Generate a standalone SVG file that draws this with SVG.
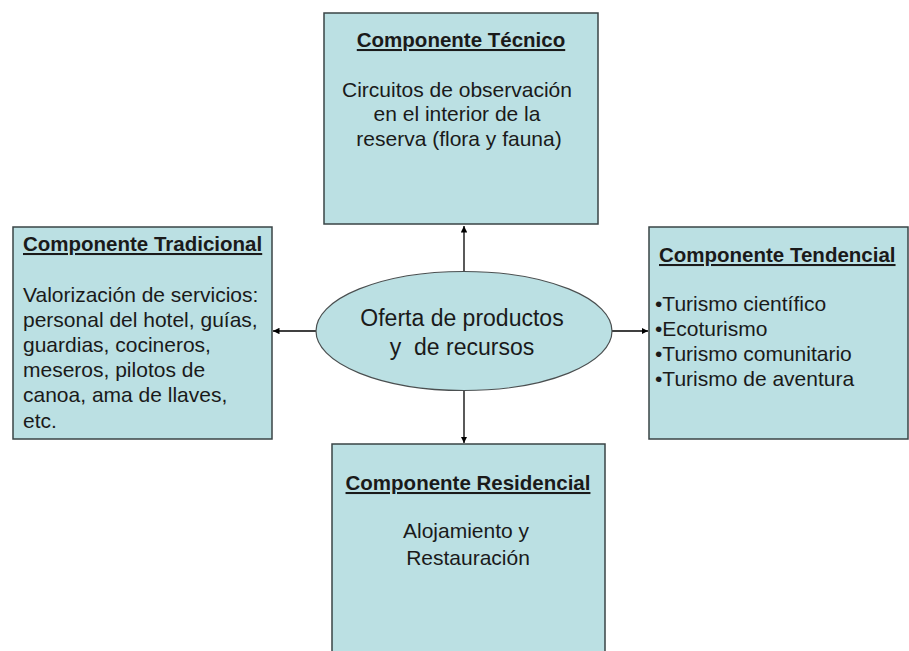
<svg xmlns="http://www.w3.org/2000/svg" width="909" height="651" viewBox="0 0 909 651">
  <style>
    .box { fill: #BBE0E3; stroke: #3a4446; stroke-width: 1.5; }
    .ell { fill: #BBE0E3; stroke: #4a4f50; stroke-width: 1.2; }
    .t { font-family: "Liberation Sans", Arial, sans-serif; fill: #1a1a1a; white-space: pre; }
    .title { font-size: 20.5px; font-weight: bold; text-decoration: underline; }
    .body { font-size: 21px; }
    .big { font-size: 23px; }
    .conn { stroke: #000; stroke-width: 1.3; fill: none; marker-end: url(#ah); }
  </style>
  <defs>
    <marker id="ah" viewBox="0 0 10 10" refX="10" refY="5" markerWidth="6.5" markerHeight="6.5" markerUnits="userSpaceOnUse" orient="auto">
      <path d="M0,0 L10,5 L0,10 z" fill="#000"/>
    </marker>
  </defs>
  <rect width="909" height="651" fill="#fff"/>

  <g id="connectors">
    <line class="conn" x1="464" y1="271" x2="464" y2="226"/>
    <line class="conn" x1="316" y1="331" x2="273" y2="331"/>
    <line class="conn" x1="612" y1="331" x2="648" y2="331"/>
    <line class="conn" x1="464" y1="391" x2="464" y2="443"/>
  </g>

  <g id="tecnico">
    <rect class="box" x="324" y="13" width="274" height="211"/>
    <text class="t title" x="461" y="47" text-anchor="middle">Componente Técnico</text>
    <text class="t body" text-anchor="middle"><tspan x="457" y="97">Circuitos de observación</tspan><tspan x="457" y="121">en el interior de la</tspan><tspan x="459" y="146">reserva (flora y fauna)</tspan></text>
  </g>

  <g id="tradicional">
    <rect class="box" x="13" y="227" width="259" height="212"/>
    <text class="t title" x="23" y="251">Componente Tradicional</text>
    <text class="t body"><tspan x="23" y="302">Valorización de servicios:</tspan><tspan x="23" y="327">personal del hotel, guías,</tspan><tspan x="23" y="352">guardias, cocineros,</tspan><tspan x="23" y="377">meseros, pilotos de</tspan><tspan x="23" y="402">canoa, ama de llaves,</tspan><tspan x="23" y="428">etc.</tspan></text>
  </g>

  <g id="tendencial">
    <rect class="box" x="649" y="227" width="259" height="212"/>
    <text class="t title" x="659" y="262">Componente Tendencial</text>
    <text class="t body"><tspan x="655" y="311">•Turismo científico</tspan><tspan x="655" y="336">•Ecoturismo</tspan><tspan x="655" y="361">•Turismo comunitario</tspan><tspan x="655" y="386">•Turismo de aventura</tspan></text>
  </g>

  <g id="oferta">
    <ellipse class="ell" cx="464" cy="331" rx="148" ry="59.5"/>
    <text class="t big" text-anchor="middle"><tspan x="462" y="326">Oferta de productos</tspan><tspan x="462" y="355">y  de recursos</tspan></text>
  </g>

  <g id="residencial">
    <rect class="box" x="332" y="444" width="273" height="220"/>
    <text class="t title" x="468" y="490" text-anchor="middle">Componente Residencial</text>
    <text class="t body" text-anchor="middle"><tspan x="466" y="538">Alojamiento y</tspan><tspan x="468" y="565">Restauración</tspan></text>
  </g>
</svg>
